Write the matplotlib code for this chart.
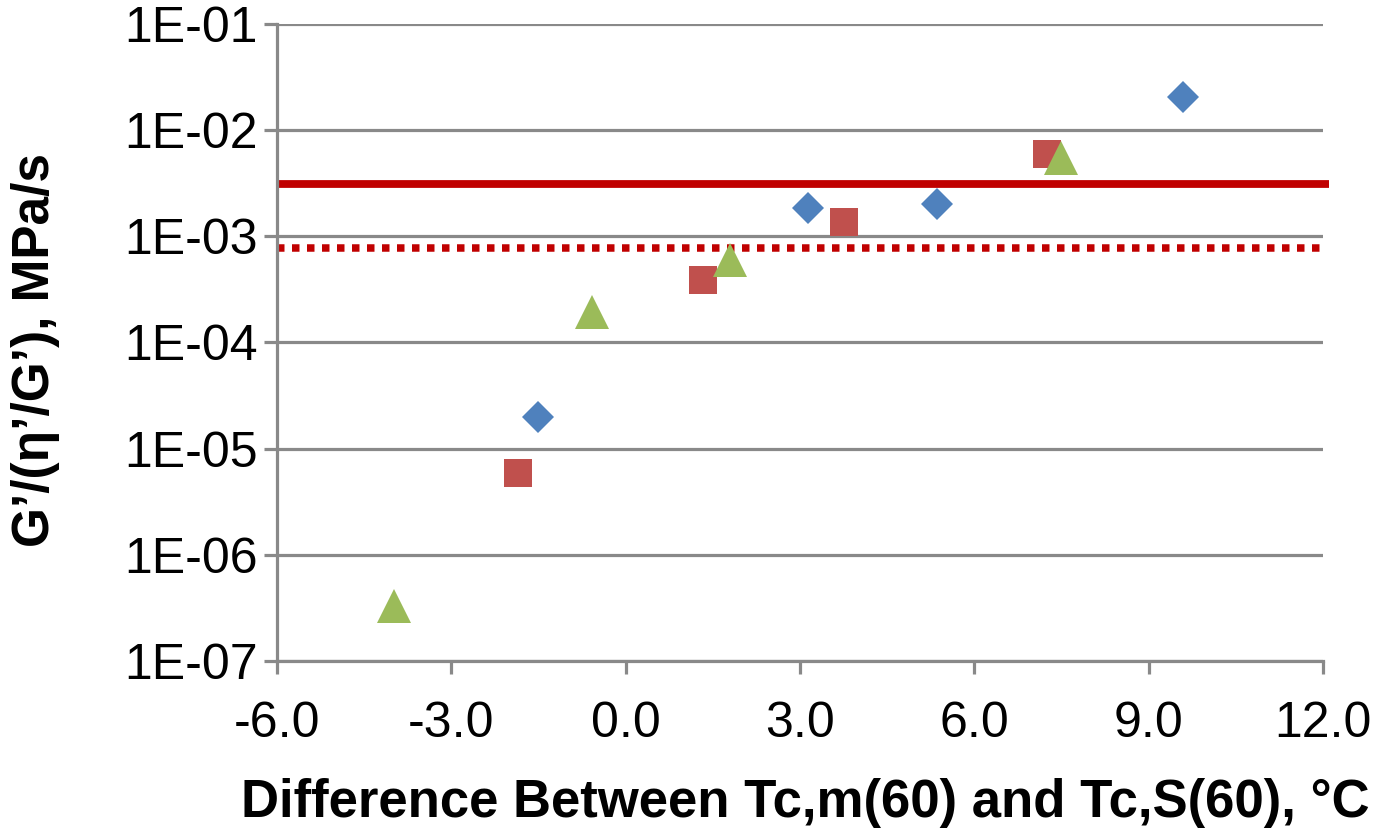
import matplotlib
matplotlib.use("Agg")
import matplotlib.pyplot as plt
from matplotlib.ticker import FixedLocator, FuncFormatter

plt.rcParams['font.family'] = ['Liberation Sans', 'DejaVu Sans']

# Series data: temperature difference (°C) vs G'/(η'/G') (MPa/s)
blue_x = [-1.51, 3.14, 5.36, 9.59]
blue_y = [2.0e-5, 1.85e-3, 2.02e-3, 2.05e-2]

red_x = [-1.85, 1.34, 3.76, 7.25]
red_y = [5.9e-6, 3.9e-4, 1.36e-3, 5.9e-3]

green_x = [-3.99, -0.58, 1.80, 7.49]
green_y = [3.3e-7, 1.94e-4, 6.0e-4, 5.5e-3]

# Reference limits
limit_solid = 3.1e-3
limit_dotted = 7.8e-4

x_ticks = [-6.0, -3.0, 0.0, 3.0, 6.0, 9.0, 12.0]
y_ticks = [1e-7, 1e-6, 1e-5, 1e-4, 1e-3, 1e-2, 1e-1]

grid_col = '#898989'

fig = plt.figure(figsize=(13.84, 8.32), dpi=100)
ax = fig.add_axes([0.2001, 0.2055, 0.7558, 0.7657])

ax.set_yscale('log')
ax.set_xlim(-6, 12)
ax.set_ylim(1e-7, 1e-1)

ax.yaxis.set_major_locator(FixedLocator(y_ticks))
ax.yaxis.set_minor_locator(FixedLocator([]))
ax.xaxis.set_major_locator(FixedLocator(x_ticks))
ax.yaxis.set_major_formatter(FuncFormatter(lambda v, p: f"{v:.0E}"))
ax.xaxis.set_major_formatter(FuncFormatter(lambda v, p: f"{v:.1f}"))

ax.grid(True, axis='y', color=grid_col, linewidth=2.3, zorder=0)
ax.set_axisbelow(True)

for s in ['top', 'right']:
    ax.spines[s].set_visible(False)
for s in ['left', 'bottom']:
    ax.spines[s].set_color(grid_col)
    ax.spines[s].set_linewidth(2.3)

ax.tick_params(axis='y', which='major', direction='out', length=9.5, width=2.3,
               color=grid_col, labelsize=36, pad=4)
ax.tick_params(axis='x', which='major', direction='out', length=9, width=2.3,
               color=grid_col, labelsize=36, pad=20)

ax.axhline(limit_solid, xmin=0, xmax=1.006, color='#C00000', linewidth=5.6,
           solid_capstyle='butt', clip_on=False, zorder=2)
ax.axhline(limit_dotted, xmin=0, xmax=1.0, color='#C00000', linewidth=5.4,
           linestyle=(0, (1, 1)), dash_capstyle='butt', zorder=2)

ax.plot(blue_x, blue_y, linestyle='none', marker='D', markersize=16.5,
        color='#4F81BD', markeredgewidth=0, zorder=3)
ax.plot(red_x, red_y, linestyle='none', marker='s', markersize=20,
        color='#C0504D', markeredgewidth=0, zorder=3)
ax.plot(green_x, green_y, linestyle='none', marker='^', markersize=24,
        color='#9BBB59', markeredgewidth=0, zorder=3)

fig.text(805 / 1384, 1 - 803 / 832,
         'Difference Between Tc,m(60) and Tc,S(60), °C',
         ha='center', va='center', fontsize=38, fontweight='bold')
fig.text(36 / 1384, 1 - 350 / 832, 'G’/(η’/G’), MPa/s', rotation=90,
         ha='center', va='center', fontsize=37, fontweight='bold')

fig.savefig('out.png', dpi=100)
